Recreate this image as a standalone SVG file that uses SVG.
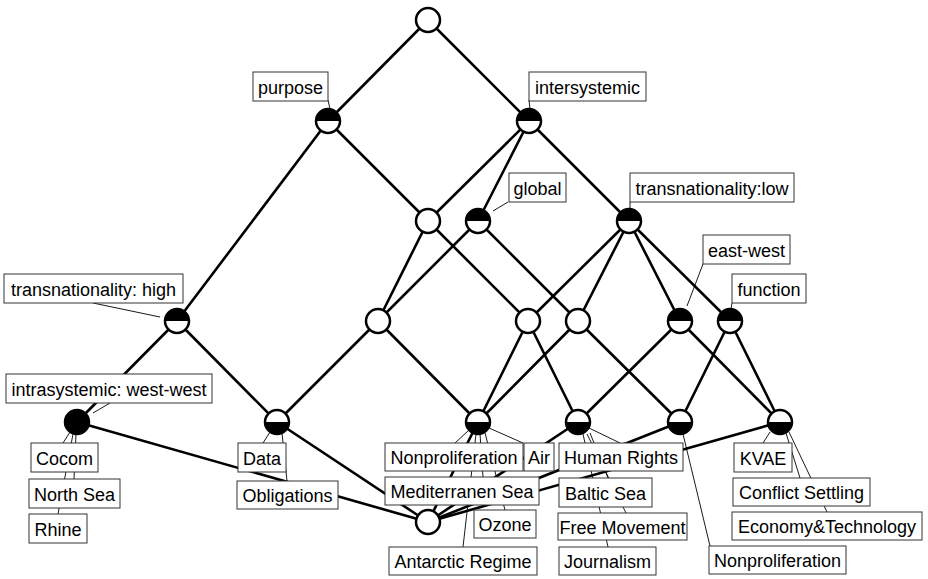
<svg xmlns="http://www.w3.org/2000/svg" xmlns:xlink="http://www.w3.org/1999/xlink" width="928" height="579" viewBox="0 0 928 579">
  <style>
    .e { stroke: #000; stroke-width: 2.6; fill: none; stroke-linecap: round; }
    .l { stroke: #000; stroke-width: 0.9; fill: none; }
    .b { fill: #fff; stroke: #333; stroke-width: 1; }
    .t { font-family: "Liberation Sans", Arial, Helvetica, sans-serif; font-size: 18px; text-anchor: middle; fill: #000; }
    .o { fill: none; stroke: #000; stroke-width: 2.5; }
  </style>
  <defs>
    <!-- concept node styles: plain, attribute (top filled), object (bottom filled), both -->
    <g id="nWhite"><circle r="12" fill="#fff"/><circle r="12" class="o"/></g>
    <g id="nTop"><circle r="12" fill="#fff"/><path d="M-12,0A12,12 0 0 1 12,0Z" fill="#000"/><circle r="12" class="o"/></g>
    <g id="nBot"><circle r="12" fill="#fff"/><path d="M-12,0A12,12 0 0 0 12,0Z" fill="#000"/><circle r="12" class="o"/></g>
    <g id="nFull"><circle r="12" fill="#000"/><circle r="12" class="o"/></g>
  </defs>
  <rect width="928" height="579" fill="#fff"/>

  <!-- lattice edges -->
  <g id="edges">
    <line class="e" x1="428" y1="20" x2="328" y2="121"/>
    <line class="e" x1="428" y1="20" x2="529" y2="121"/>
    <line class="e" x1="328" y1="121" x2="177" y2="321"/>
    <line class="e" x1="328" y1="121" x2="428" y2="221"/>
    <line class="e" x1="529" y1="121" x2="428" y2="221"/>
    <line class="e" x1="529" y1="121" x2="478" y2="221"/>
    <line class="e" x1="529" y1="121" x2="629" y2="221"/>
    <line class="e" x1="428" y1="221" x2="378" y2="321"/>
    <line class="e" x1="428" y1="221" x2="528" y2="321"/>
    <line class="e" x1="478" y1="221" x2="378" y2="321"/>
    <line class="e" x1="478" y1="221" x2="578" y2="321"/>
    <line class="e" x1="629" y1="221" x2="528" y2="321"/>
    <line class="e" x1="629" y1="221" x2="578" y2="321"/>
    <line class="e" x1="629" y1="221" x2="680" y2="321"/>
    <line class="e" x1="629" y1="221" x2="730" y2="321"/>
    <line class="e" x1="177" y1="321" x2="77" y2="422"/>
    <line class="e" x1="177" y1="321" x2="277" y2="422"/>
    <line class="e" x1="378" y1="321" x2="277" y2="422"/>
    <line class="e" x1="378" y1="321" x2="478" y2="422"/>
    <line class="e" x1="528" y1="321" x2="478" y2="422"/>
    <line class="e" x1="528" y1="321" x2="578" y2="422"/>
    <line class="e" x1="578" y1="321" x2="478" y2="422"/>
    <line class="e" x1="578" y1="321" x2="680" y2="422"/>
    <line class="e" x1="680" y1="321" x2="578" y2="422"/>
    <line class="e" x1="680" y1="321" x2="780" y2="422"/>
    <line class="e" x1="730" y1="321" x2="680" y2="422"/>
    <line class="e" x1="730" y1="321" x2="780" y2="422"/>
    <line class="e" x1="77" y1="422" x2="428" y2="522"/>
    <line class="e" x1="277" y1="422" x2="428" y2="522"/>
    <line class="e" x1="478" y1="422" x2="428" y2="522"/>
    <line class="e" x1="578" y1="422" x2="428" y2="522"/>
    <line class="e" x1="680" y1="422" x2="428" y2="522"/>
    <line class="e" x1="780" y1="422" x2="428" y2="522"/>
  </g>

  <!-- label leader lines -->
  <g id="leaders">
    <line class="l" x1="328" y1="100" x2="330" y2="109"/>
    <line class="l" x1="529" y1="100" x2="530" y2="109"/>
    <line class="l" x1="508" y1="202" x2="493" y2="211"/>
    <line class="l" x1="630" y1="202" x2="630" y2="209"/>
    <line class="l" x1="703" y1="264" x2="687" y2="306"/>
    <line class="l" x1="732" y1="303" x2="731" y2="309"/>
    <line class="l" x1="93" y1="303" x2="160" y2="317"/>
    <line class="l" x1="110" y1="403" x2="93" y2="413"/>
    <line class="l" x1="70" y1="432" x2="63" y2="443"/>
    <line class="l" x1="76" y1="434" x2="74" y2="479"/>
    <line class="l" x1="73" y1="434" x2="58" y2="514"/>
    <line class="l" x1="270" y1="432" x2="263" y2="443"/>
    <line class="l" x1="282" y1="433" x2="287" y2="481"/>
    <line class="l" x1="468" y1="431" x2="455" y2="443"/>
    <line class="l" x1="489" y1="428" x2="523" y2="443"/>
    <line class="l" x1="480" y1="434" x2="483" y2="477"/>
    <line class="l" x1="485" y1="433" x2="505" y2="510"/>
    <line class="l" x1="476" y1="434" x2="463" y2="547"/>
    <line class="l" x1="589" y1="428" x2="620" y2="443"/>
    <line class="l" x1="590" y1="433" x2="608" y2="478"/>
    <line class="l" x1="587" y1="434" x2="626" y2="513"/>
    <line class="l" x1="583" y1="434" x2="608" y2="547"/>
    <line class="l" x1="683" y1="434" x2="710" y2="546"/>
    <line class="l" x1="770" y1="432" x2="763" y2="443"/>
    <line class="l" x1="786" y1="433" x2="800" y2="478"/>
    <line class="l" x1="789" y1="432" x2="827" y2="512"/>
  </g>

  <g id="n-top"><use xlink:href="#nWhite" transform="translate(428,20)"/></g>

  <g id="n-purpose">
    <use xlink:href="#nTop" transform="translate(328,121)"/>
    <rect class="b" x="253" y="72" width="75" height="29"/>
    <text class="t" x="290.5" y="93.5">purpose</text>
  </g>

  <g id="n-intersystemic">
    <use xlink:href="#nTop" transform="translate(529,121)"/>
    <rect class="b" x="529" y="72" width="117" height="29"/>
    <text class="t" x="587.5" y="93.5">intersystemic</text>
  </g>

  <g id="n-a"><use xlink:href="#nWhite" transform="translate(428,221)"/></g>

  <g id="n-global">
    <use xlink:href="#nTop" transform="translate(478,221)"/>
    <rect class="b" x="509" y="173" width="57" height="29"/>
    <text class="t" x="537.5" y="194.5">global</text>
  </g>

  <g id="n-transnationality-low">
    <use xlink:href="#nTop" transform="translate(629,221)"/>
    <rect class="b" x="630" y="173" width="164" height="29"/>
    <text class="t" x="712" y="194.5">transnationality:low</text>
  </g>

  <g id="n-transnationality-high">
    <use xlink:href="#nTop" transform="translate(177,321)"/>
    <rect class="b" x="4" y="274" width="179" height="29"/>
    <text class="t" x="93.5" y="295.5">transnationality: high</text>
  </g>

  <g id="n-b"><use xlink:href="#nWhite" transform="translate(378,321)"/></g>
  <g id="n-c"><use xlink:href="#nWhite" transform="translate(528,321)"/></g>
  <g id="n-d"><use xlink:href="#nWhite" transform="translate(578,321)"/></g>

  <g id="n-east-west">
    <use xlink:href="#nTop" transform="translate(680,321)"/>
    <rect class="b" x="703" y="235" width="87" height="29"/>
    <text class="t" x="746.5" y="256.5">east-west</text>
  </g>

  <g id="n-function">
    <use xlink:href="#nTop" transform="translate(730,321)"/>
    <rect class="b" x="732" y="274" width="74" height="29"/>
    <text class="t" x="769" y="295.5">function</text>
  </g>

  <g id="n-intrasystemic">
    <use xlink:href="#nFull" transform="translate(77,422)"/>
    <rect class="b" x="6" y="374" width="206" height="29"/>
    <text class="t" x="109" y="395.5">intrasystemic: west-west</text>
    <rect class="b" x="31" y="443" width="67" height="29"/>
    <text class="t" x="64.5" y="464.5">Cocom</text>
    <rect class="b" x="29" y="479" width="91" height="29"/>
    <text class="t" x="74.5" y="500.5">North Sea</text>
    <rect class="b" x="29" y="514" width="58" height="29"/>
    <text class="t" x="58" y="535.5">Rhine</text>
  </g>

  <g id="n-data">
    <use xlink:href="#nBot" transform="translate(277,422)"/>
    <rect class="b" x="238" y="443" width="48" height="29"/>
    <text class="t" x="262" y="464.5">Data</text>
    <rect class="b" x="237" y="481" width="101" height="28"/>
    <text class="t" x="287.5" y="502">Obligations</text>
  </g>

  <g id="n-e">
    <use xlink:href="#nBot" transform="translate(478,422)"/>
    <rect class="b" x="385" y="443" width="138" height="28"/>
    <text class="t" x="454" y="464">Nonproliferation</text>
    <rect class="b" x="524" y="443" width="30" height="28"/>
    <text class="t" x="539" y="464">Air</text>
    <rect class="b" x="385" y="477" width="154" height="28"/>
    <text class="t" x="462" y="498">Mediterranen Sea</text>
    <rect class="b" x="474" y="510" width="62" height="28"/>
    <text class="t" x="505" y="531">Ozone</text>
    <rect class="b" x="389" y="547" width="148" height="28"/>
    <text class="t" x="463" y="568">Antarctic Regime</text>
  </g>

  <g id="n-f">
    <use xlink:href="#nBot" transform="translate(578,422)"/>
    <rect class="b" x="559" y="443" width="124" height="28"/>
    <text class="t" x="621" y="464">Human Rights</text>
    <rect class="b" x="559" y="478" width="93" height="29"/>
    <text class="t" x="605.5" y="499.5">Baltic Sea</text>
    <rect class="b" x="558" y="513" width="129" height="27"/>
    <text class="t" x="622.5" y="533.5">Free Movement</text>
    <rect class="b" x="559" y="547" width="97" height="28"/>
    <text class="t" x="607.5" y="568">Journalism</text>
  </g>

  <g id="n-g">
    <use xlink:href="#nBot" transform="translate(680,422)"/>
    <rect class="b" x="709" y="546" width="137" height="28"/>
    <text class="t" x="777.5" y="567">Nonproliferation</text>
  </g>

  <g id="n-h">
    <use xlink:href="#nBot" transform="translate(780,422)"/>
    <rect class="b" x="734" y="443" width="58" height="29"/>
    <text class="t" x="763" y="464.5">KVAE</text>
    <rect class="b" x="733" y="478" width="137" height="28"/>
    <text class="t" x="801.5" y="499">Conflict Settling</text>
    <rect class="b" x="732" y="512" width="190" height="28"/>
    <text class="t" x="827" y="533">Economy&amp;Technology</text>
  </g>

  <g id="n-bottom"><use xlink:href="#nWhite" transform="translate(428,522)"/></g>
</svg>
